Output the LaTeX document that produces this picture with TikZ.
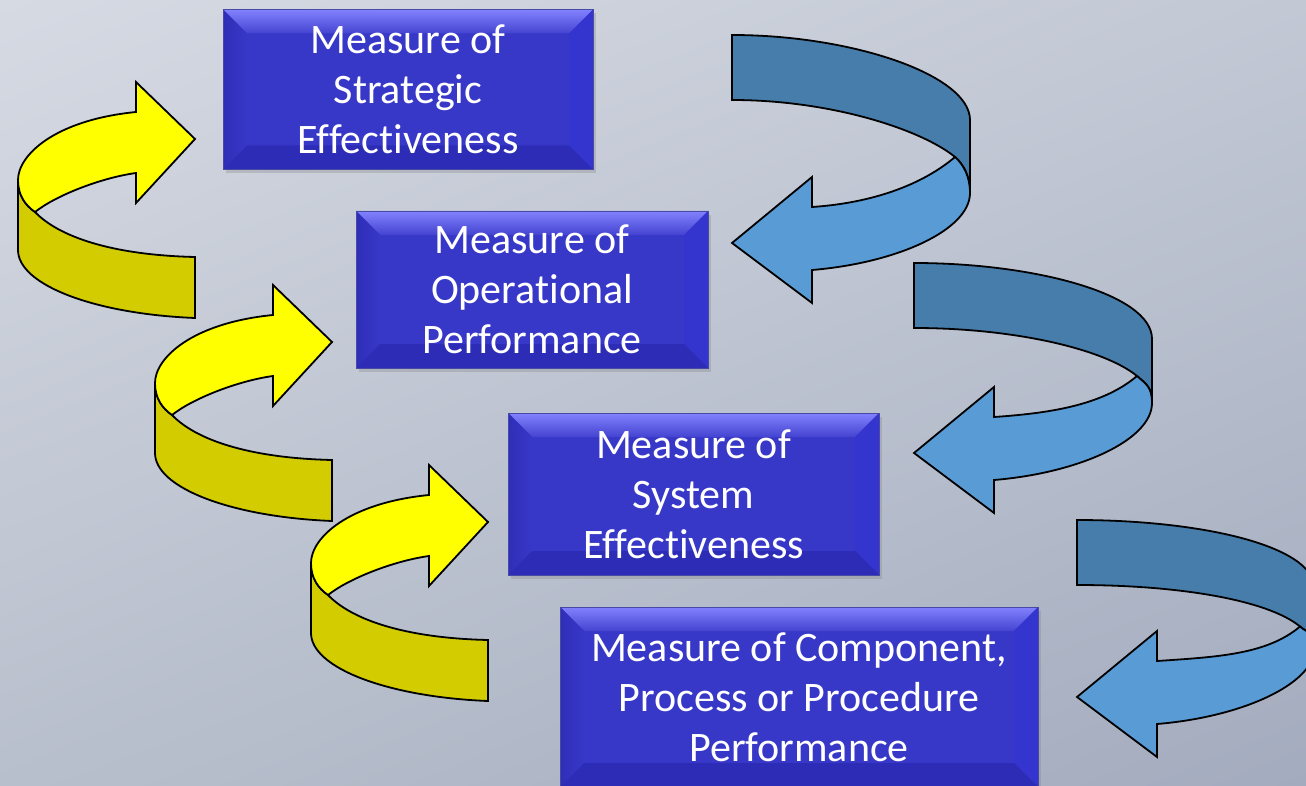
\documentclass[tikz,border=0pt]{standalone}
\usepackage{fontspec}
\setmainfont{Carlito}[Ligatures={TeX,NoCommon}]
\usepackage{tikz}
\usetikzlibrary{calc,shadows,shadings}

\definecolor{boxblue}{RGB}{56,56,200}
\definecolor{boxlight}{RGB}{130,130,255}
\definecolor{boxleft}{RGB}{46,46,184}
\definecolor{boxright}{RGB}{52,52,206}
\definecolor{boxbottom}{RGB}{44,44,182}
\definecolor{boxedge}{RGB}{72,72,165}
\definecolor{curlyellow}{RGB}{255,255,0}
\definecolor{curlolive}{RGB}{210,204,0}
\definecolor{curlblue}{RGB}{88,155,213}
\definecolor{curlsteel}{RGB}{71,125,170}
\definecolor{bgtl}{RGB}{214,218,227}
\definecolor{bgtr}{RGB}{194,200,212}
\definecolor{bgbl}{RGB}{184,191,204}
\definecolor{bgbr}{RGB}{163,171,190}

\tikzstyle{curl}=[draw=black,line width=1.8pt]
\tikzstyle{measure}=[rectangle,draw=boxedge,line width=0.8pt,fill=boxblue,text=white,
    align=center,inner sep=0pt,font=\fontsize{42}{50}\selectfont,
    drop shadow={shadow xshift=3pt,shadow yshift=-4pt,opacity=0.3},
    path picture={
        \coordinate (nw) at (path picture bounding box.north west);
        \coordinate (ne) at (path picture bounding box.north east);
        \coordinate (sw) at (path picture bounding box.south west);
        \coordinate (se) at (path picture bounding box.south east);
        % bevelled rim
        \shade[top color=boxlight,bottom color=boxblue!85!boxlight]
            (nw) -- (ne) -- ($(ne)+(-24,24)$) -- ($(nw)+(24,24)$) -- cycle;
        \shade[left color=boxleft,right color=boxblue]
            (nw) -- ($(nw)+(24,24)$) -- ($(sw)+(24,-24)$) -- (sw) -- cycle;
        \fill[boxright] (ne) -- ($(ne)+(-24,24)$) -- ($(se)+(-24,-24)$) -- (se) -- cycle;
        \fill[boxbottom] (sw) -- ($(sw)+(24,-24)$) -- ($(se)+(-24,-24)$) -- (se) -- cycle;
    }]

% yellow curl, turning up to the right
\newcommand{\yellowcurl}[2]{
    \begin{scope}[shift={(#1,#2)}]
    \path[curl,fill=curlolive] (18,180) -- (18,250) .. controls (18,285) and (95,314) .. (195,318)
        -- (195,257) .. controls (110,255) and (58,236) .. (35,212)
        .. controls (25,205) and (18,195) .. (18,180) -- cycle;
    \path[curl,fill=curlyellow] (18,180) .. controls (18,155) and (55,120) .. (136,112)
        -- (136,82) -- (195,139) -- (136,203) -- (136,173)
        .. controls (100,178) and (55,196) .. (35,212)
        .. controls (25,205) and (18,195) .. (18,180) -- cycle;
    \end{scope}
}

% blue curl, turning down to the left; #3 lifts the lower half
\newcommand{\bluecurl}[3]{
    \begin{scope}[shift={(#1,#2)}]
    \path[curl,fill=curlsteel] (0,0) .. controls (120,0) and (238,{40-#3/2}) .. (238,{85-#3/2})
        -- (238,{158-#3}) .. controls (238,{142-#3}) and (232,{130-#3/2}) .. (223,{122-#3/2})
        .. controls (190,{95-#3/2}) and (100,65) .. (0,65) -- cycle;
    \path[curl,fill=curlblue] (223,{122-#3/2}) .. controls (232,{130-#3/2}) and (238,{142-#3}) .. (238,{158-#3})
        .. controls (238,{195-#3}) and (165,{228-#3}) .. (80,{235-#3})
        -- (80,{268-#3}) -- (0,{208-#3}) -- (80,{142-#3}) -- (80,{172-#3})
        .. controls (140,{168-#3}) and (190,{150-#3/2}) .. (223,{122-#3/2}) -- cycle;
    \end{scope}
}

\begin{document}
\begin{tikzpicture}[x=1pt,y=-1pt]

    \useasboundingbox (0,0) rectangle (1306,786);
    \clip (0,0) rectangle (1306,786);
    \shade[upper left=bgtl,upper right=bgtr,lower left=bgbl,lower right=bgbr]
        (0,0) rectangle (1306,786);

    % curls on the left side
    \foreach \x/\y in {0/0, 137/203, 293/383}
        \yellowcurl{\x}{\y};

    % curls on the right side
    \foreach \x/\y/\drop in {732/35/0, 914/263/18, 1077/520/31}
        \bluecurl{\x}{\y}{\drop};

    % the four measures
    \foreach \pos/\name/\w/\h/\txt in {
        {(408,89.5)/strategic/370pt/160pt/{Measure of\\Strategic\\Effectiveness}},
        {(532,289.5)/operational/352pt/157pt/{Measure of\\Operational\\Performance}},
        {(693.5,494)/system/371pt/162pt/{Measure of\\System\\Effectiveness}},
        {(799,697)/component/478pt/180pt/{Measure of Component,\\Process or Procedure\\Performance}}}
        \node[measure,minimum width=\w,minimum height=\h] (\name) at \pos {\txt};

\end{tikzpicture}
\end{document}
